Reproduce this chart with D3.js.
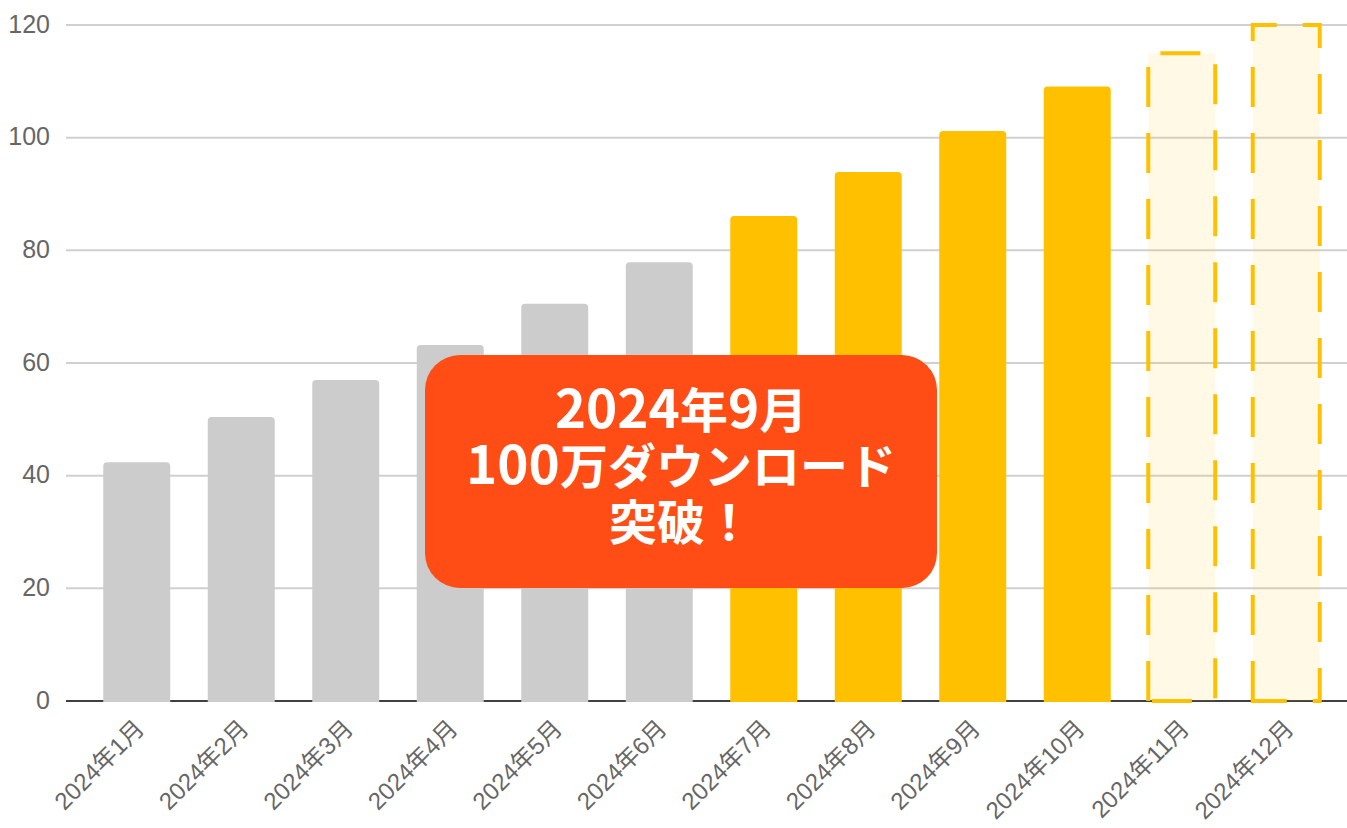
<!DOCTYPE html>
<html>
<head>
<meta charset="utf-8">
<script src="https://cdn.jsdelivr.net/npm/d3@7"></script>
<style>
  html, body { margin: 0; padding: 0; background: #fff; }
  svg { display: block; }
</style>
</head>
<body>
<svg id="chart" width="1347" height="828"></svg>
<script>
// ---- data ----
const months = ["2024年1月","2024年2月","2024年3月","2024年4月","2024年5月","2024年6月",
                "2024年7月","2024年8月","2024年9月","2024年10月","2024年11月","2024年12月"];
const downloads = [42.4, 50.4, 57.0, 63.2, 70.5, 77.9, 86.1, 93.9, 101.2, 109.1, 115.0, 120.0];
const kind = ["past","past","past","past","past","past","actual","actual","actual","actual","forecast","forecast"];
const yTicks = [0, 20, 40, 60, 80, 100, 120];
const calloutLines = ["2024年9月", "100万ダウンロード", "突破！"];

// ---- layout ----
const W = 1347, H = 828;
const plotLeft = 66, plotRight = 1347, plotTop = 25, plotBottom = 701;

const svg = d3.select("#chart");

const x = d3.scaleBand().domain(months).range([84.5, 1338.5])
  .paddingInner(0.359).paddingOuter(0.1795);
const y = d3.scaleLinear().domain([0, 120]).range([plotBottom, plotTop]);

const colors = { past: "#cccccc", actual: "#ffc000" };
const fontFam = "'Liberation Sans', Arial, 'Noto Sans CJK JP', sans-serif";

// gridlines
svg.append("g").selectAll("line").data(yTicks.filter(d => d > 0)).join("line")
  .attr("x1", plotLeft).attr("x2", plotRight)
  .attr("y1", d => y(d)).attr("y2", d => y(d))
  .attr("stroke", "#d0d0d0").attr("stroke-width", 2);

// axis baseline (behind bars)
svg.append("line")
  .attr("x1", plotLeft).attr("x2", plotRight)
  .attr("y1", y(0)).attr("y2", y(0))
  .attr("stroke", "#404040").attr("stroke-width", 2);

// y tick labels
svg.append("g").selectAll("text").data(yTicks).join("text")
  .attr("x", 50).attr("y", d => y(d) + 7.5)
  .attr("text-anchor", "end")
  .attr("font-family", fontFam).attr("font-size", 25)
  .attr("fill", "#666666")
  .text(d => d);

// top-rounded bar path
function topRounded(x0, y0, w, h, r) {
  return `M${x0},${y0 + h} L${x0},${y0 + r} Q${x0},${y0} ${x0 + r},${y0} ` +
         `L${x0 + w - r},${y0} Q${x0 + w},${y0} ${x0 + w},${y0 + r} L${x0 + w},${y0 + h} Z`;
}

const data = months.map((m, i) => ({ m, v: downloads[i], k: kind[i] }));

// solid bars
svg.append("g").selectAll("path").data(data.filter(d => d.k !== "forecast")).join("path")
  .attr("d", d => topRounded(x(d.m), y(d.v), x.bandwidth(), y(0) - y(d.v) + 1, 4))
  .attr("fill", d => colors[d.k]);

// forecast bars: translucent fill + dashed outline
const fc = svg.append("g").selectAll("g").data(data.filter(d => d.k === "forecast")).join("g");
fc.append("rect")
  .attr("x", d => x(d.m)).attr("y", d => y(d.v))
  .attr("width", x.bandwidth()).attr("height", d => y(0) - y(d.v))
  .attr("fill", "rgba(255,192,0,0.1)");
fc.append("path")
  .attr("d", d => {
    const x0 = x(d.m), x1 = x(d.m) + x.bandwidth(), y0 = y(d.v), y1 = y(0);
    return `M${x0},${y1} L${x0},${y0} L${x1},${y0} L${x1},${y1} Z`;
  })
  .attr("fill", "none")
  .attr("stroke", "#ffc000").attr("stroke-width", 4)
  .attr("stroke-dasharray", "40 26");

// x labels, rotated
svg.append("g").selectAll("text").data(months).join("text")
  .attr("transform", d => `translate(${x(d) + x.bandwidth() / 2 + 9},730) rotate(-45)`)
  .attr("text-anchor", "end")
  .attr("font-family", fontFam).attr("font-size", 24)
  .attr("fill", "#666666")
  .text(d => d);

// callout
const cb = { x: 425, y: 355, w: 512, h: 233, r: 35 };
svg.append("rect")
  .attr("x", cb.x).attr("y", cb.y).attr("width", cb.w).attr("height", cb.h)
  .attr("rx", cb.r).attr("ry", cb.r)
  .attr("fill", "#ff4d15");
const ct = svg.append("g").selectAll("text").data(calloutLines).join("text")
  .attr("x", cb.x + cb.w / 2)
  .attr("y", (d, i) => 428 + i * 56)
  .attr("text-anchor", "middle")
  .attr("font-family", "'Noto Sans CJK JP', sans-serif")
  .attr("font-weight", 700).attr("font-size", 48)
  .attr("fill", "#ffffff");
ct.each(function(d) {
  const parts = d.match(/[0-9]+|[^0-9]+/g);
  d3.select(this).selectAll("tspan").data(parts).join("tspan")
    .attr("font-size", p => /^[0-9]/.test(p) ? 53 : 48)
    .text(p => p);
});
</script>
</body>
</html>
